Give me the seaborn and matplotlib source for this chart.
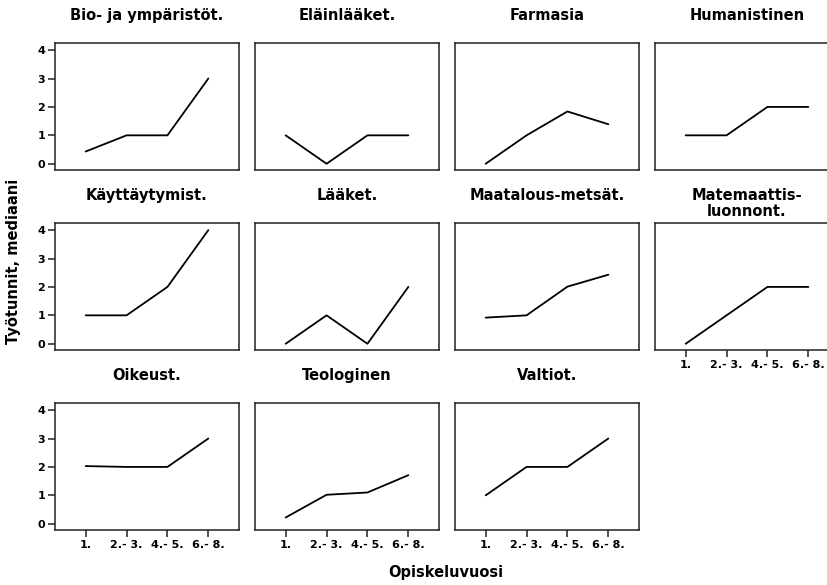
import matplotlib
matplotlib.use("Agg")
import matplotlib.pyplot as plt
import seaborn as sns
import pandas as pd

sns.set_style("ticks")
plt.rcParams['font.family'] = ['DejaVu Sans']
plt.rcParams['text.color'] = 'black'
plt.rcParams['xtick.color'] = 'black'
plt.rcParams['ytick.color'] = 'black'
plt.rcParams['axes.labelcolor'] = 'black'

years = ["1.", "2.- 3.", "4.- 5.", "6.- 8."]
titles = ["Bio- ja ympäristöt.", "Eläinlääket.", "Farmasia", "Humanistinen",
          "Käyttäytymist.", "Lääket.", "Maatalous-metsät.", "Matemaattis-\nluonnont.",
          "Oikeust.", "Teologinen", "Valtiot."]
bio = [0.43, 1.0, 1.0, 3.0]
elain = [1.0, 0.0, 1.0, 1.0]
farmasia = [0.0, 1.0, 1.84, 1.39]
humanistinen = [1.0, 1.0, 2.0, 2.0]
kayttaytymist = [1.0, 1.0, 2.0, 4.0]
laaket = [0.0, 1.0, 0.0, 2.0]
maatalous = [0.92, 1.0, 2.01, 2.43]
matemaattis = [0.0, 1.0, 2.0, 2.0]
oikeust = [2.03, 2.0, 2.0, 3.0]
teologinen = [0.22, 1.02, 1.1, 1.71]
valtiot = [1.0, 2.0, 2.0, 3.0]
series = [bio, elain, farmasia, humanistinen, kayttaytymist, laaket,
          maatalous, matemaattis, oikeust, teologinen, valtiot]
yticks = [0, 1, 2, 3, 4]

W, H = 828, 585
fig = plt.figure(figsize=(W / 100, H / 100), dpi=100)

lefts = [55, 255, 455, 655]
tops = [43, 223, 403]
aw, ah = 184, 127

for i, (t, vals) in enumerate(zip(titles, series)):
    r, c = divmod(i, 4)
    left = lefts[c]
    top = tops[r]
    ax = fig.add_axes([left / W, 1 - (top + ah) / H, aw / W, ah / H])
    df = pd.DataFrame({"year": years, "value": vals})
    sns.lineplot(data=df, x="year", y="value", ax=ax, color="black", linewidth=1.3)
    ax.set_xlim(-0.75, 3.75)
    ax.set_ylim(-0.22, 4.25)
    ax.set_xlabel("")
    ax.set_ylabel("")
    for s in ax.spines.values():
        s.set_visible(True)
        s.set_linewidth(1.1)
        s.set_color("#222222")
    show_x = (r == 2) or (i == 7)
    show_y = (c == 0)
    ax.set_xticks(range(len(years)))
    ax.set_yticks(yticks)
    if show_x:
        ax.set_xticklabels(years, fontsize=8, fontweight="bold")
    else:
        ax.set_xticks([])
    if show_y:
        ax.set_yticklabels([str(v) for v in yticks], fontsize=8, fontweight="bold")
    else:
        ax.set_yticks([])
    ax.tick_params(axis="both", length=5, width=1.1, color="#222222", pad=2)
    ax.text(0.5, 1 + 35 / ah, t, transform=ax.transAxes, ha="center", va="top",
            fontsize=10.5, fontweight="bold", linespacing=1.05)

fig.text(14 / W, 1 - 261 / H, "Työtunnit, mediaani", rotation=90, ha="center",
         va="center", fontsize=10.5, fontweight="bold")
fig.text(446 / W, 1 - 573 / H, "Opiskeluvuosi", ha="center", va="center",
         fontsize=10.5, fontweight="bold")

fig.savefig("out.png", dpi=100)
